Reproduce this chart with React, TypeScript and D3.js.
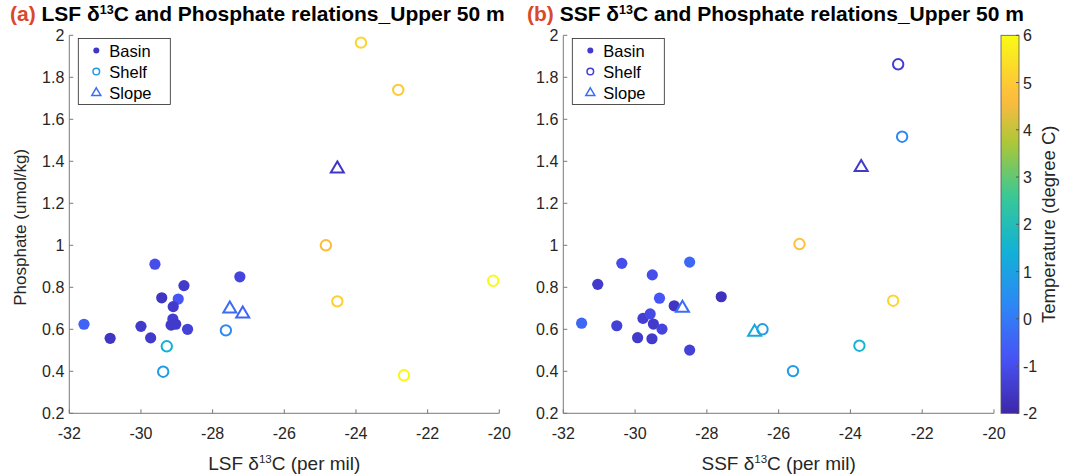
import React from "react";
import * as d3 from "d3";

// ---------- data ----------
const xTicks = [-32, -30, -28, -26, -24, -22, -20];
const yTicks = [0.2, 0.4, 0.6, 0.8, 1, 1.2, 1.4, 1.6, 1.8, 2];
const yTickLabels = ["0.2", "0.4", "0.6", "0.8", "1", "1.2", "1.4", "1.6", "1.8", "2"];
const cTicks = [-2, -1, 0, 1, 2, 3, 4, 5, 6];

// Panel (a) LSF
const aBasinX = [-30.86, -31.59, -29.61, -30.0, -29.73, -29.42, -28.96, -29.1, -28.8, -29.11, -29.16, -29.03, -28.7, -27.24];
const aBasinY = [0.557, 0.624, 0.91, 0.614, 0.559, 0.75, 0.744, 0.708, 0.808, 0.649, 0.62, 0.624, 0.6, 0.85];
const aBasinT = [-1.6, -0.5, -1.0, -1.5, -1.5, -1.6, -0.8, -1.5, -1.5, -1.4, -1.5, -1.5, -1.3, -1.2];
const aShelfX = [-29.38, -29.28, -27.63, -24.84, -24.52, -23.86, -22.82, -22.66, -20.17];
const aShelfY = [0.398, 0.519, 0.595, 1.0, 0.733, 1.965, 1.74, 0.381, 0.831];
const aShelfT = [0.8, 1.4, 0.4, 4.6, 5.1, 5.2, 5.0, 5.9, 6.0];
const aSlopeX = [-27.52, -27.16, -24.52];
const aSlopeY = [0.7, 0.676, 1.367];
const aSlopeT = [-0.3, -0.5, -1.6];

// Panel (b) SSF
const bBasinX = [-31.04, -31.49, -30.37, -29.52, -29.32, -28.91, -30.51, -29.93, -29.53, -29.78, -29.58, -29.49, -29.25, -28.48, -28.48, -27.6];
const bBasinY = [0.814, 0.629, 0.914, 0.859, 0.748, 0.712, 0.617, 0.56, 0.555, 0.652, 0.673, 0.625, 0.601, 0.92, 0.501, 0.755];
const bBasinT = [-1.5, -0.4, -1.0, -1.0, -0.8, -1.6, -1.3, -1.5, -1.5, -1.4, -1.1, -1.5, -1.2, -0.4, -1.3, -1.7];
const bShelfX = [-22.67, -22.56, -25.42, -22.81, -23.75, -25.6, -26.45];
const bShelfY = [1.862, 1.517, 1.006, 0.736, 0.522, 0.401, 0.6];
const bShelfT = [-1.4, 0.3, 4.8, 5.2, 1.5, 0.8, 0.9];
const bSlopeX = [-28.68, -26.67, -23.7];
const bSlopeY = [0.703, 0.589, 1.374];
const bSlopeT = [-0.3, 1.2, -1.5];

// parula anchors [t, r, g, b]
const parulaAnchors: [number, number, number, number][] = [
  [0.0, 0.2422, 0.1504, 0.6603],
  [0.1429, 0.281, 0.3228, 0.9579],
  [0.2857, 0.1786, 0.5289, 0.9682],
  [0.4286, 0.0689, 0.6948, 0.8394],
  [0.5714, 0.2161, 0.7843, 0.5923],
  [0.7143, 0.672, 0.7793, 0.2227],
  [0.82, 0.975, 0.735, 0.25],
  [0.8571, 0.997, 0.7659, 0.2199],
  [1.0, 0.9769, 0.9839, 0.0805],
];

function parula(t: number): string {
  t = Math.max(0, Math.min(1, t));
  let i = 0;
  while (i < parulaAnchors.length - 2 && t > parulaAnchors[i + 1][0]) i++;
  const a = parulaAnchors[i];
  const b = parulaAnchors[i + 1];
  const f = (t - a[0]) / (b[0] - a[0]);
  const c = [1, 2, 3].map((k) => Math.round(255 * (a[k] + (b[k] - a[k]) * f)));
  return d3.rgb(c[0], c[1], c[2]).formatHex();
}

const tempScale = d3.scaleLinear().domain([-2, 6]).range([0, 1]);
const colorOf = (t: number) => parula(tempScale(t));

const FONT = "'Liberation Sans', Arial, Helvetica, sans-serif";
const TXT = "#262626";
const AX = "#7a7a7a";
const TICK_FS = 16;
const XLABEL_FS = 19;
const YLABEL_FS = 17;
const CBLABEL_FS = 18.5;
const TITLE_FS = 21;
const LEG_FS = 16.5;

type Series = { x: number[]; y: number[]; t: number[] };

function Panel(props: {
  left: number;
  right: number;
  letter: string;
  xPrefix: string;
  titleX: number;
  basin: Series;
  shelf: Series;
  slope: Series;
  showYLabel: boolean;
}) {
  const { left, right } = props;
  const top = 35.3;
  const bottom = 413.3;
  const x = d3.scaleLinear().domain([-32, -20]).range([left, right]);
  const y = d3.scaleLinear().domain([0.2, 2]).range([bottom, top]);
  const tri = (cx: number, cy: number, s: number) => {
    const h = s * 0.85;
    return `M${cx},${cy - h * 0.62} L${cx + s / 2},${cy + h * 0.38} L${cx - s / 2},${cy + h * 0.38} Z`;
  };
  const cx = (left + right) / 2;
  const lgX = left + 9;
  const lgY = 38.5;
  return (
    <g>
      <text x={props.titleX} y={21} fontFamily={FONT} fontSize={TITLE_FS} fontWeight="bold" fill="#000">
        <tspan fill="#d9482b">{props.letter}</tspan>
        <tspan> {props.xPrefix} δ</tspan>
        <tspan fontSize={12.5} dy={-7.5}>13</tspan>
        <tspan dy={7.5}>C and Phosphate relations_Upper 50 m</tspan>
      </text>
      {/* axes */}
      <line x1={left} x2={right} y1={bottom} y2={bottom} stroke={AX} strokeWidth={1} />
      <line x1={left} x2={left} y1={top} y2={bottom} stroke={AX} strokeWidth={1} />
      {xTicks.map((t) => (
        <g key={"xt" + t}>
          <line x1={x(t)} x2={x(t)} y1={bottom} y2={bottom - 4} stroke={AX} />
          <text x={x(t)} y={439} textAnchor="middle" fontFamily={FONT} fontSize={TICK_FS} fill={TXT}>
            {t}
          </text>
        </g>
      ))}
      {yTicks.map((t, i) => (
        <g key={"yt" + t}>
          <line x1={left} x2={left + 4} y1={y(t)} y2={y(t)} stroke={AX} />
          <text x={left - 5} y={y(t) + 6} textAnchor="end" fontFamily={FONT} fontSize={TICK_FS} fill={TXT}>
            {yTickLabels[i]}
          </text>
        </g>
      ))}
      <text x={cx} y={470} textAnchor="middle" fontFamily={FONT} fontSize={XLABEL_FS} fill={TXT}>
        <tspan>{props.xPrefix} δ</tspan>
        <tspan fontSize={11.5} dy={-7.5}>13</tspan>
        <tspan dy={7.5}>C (per mil)</tspan>
      </text>
      {props.showYLabel && (
        <text
          transform={`translate(26,${(top + bottom) / 2 + 3}) rotate(-90)`}
          textAnchor="middle"
          fontFamily={FONT}
          fontSize={YLABEL_FS}
          fill={TXT}
        >
          Phosphate (umol/kg)
        </text>
      )}
      {/* data */}
      {props.basin.x.map((v, i) => (
        <circle key={"b" + i} cx={x(v)} cy={y(props.basin.y[i])} r={5.6} fill={colorOf(props.basin.t[i])} />
      ))}
      {props.shelf.x.map((v, i) => (
        <circle
          key={"s" + i}
          cx={x(v)}
          cy={y(props.shelf.y[i])}
          r={5.2}
          fill="none"
          stroke={colorOf(props.shelf.t[i])}
          strokeWidth={2}
        />
      ))}
      {props.slope.x.map((v, i) => (
        <path
          key={"t" + i}
          d={tri(x(v), y(props.slope.y[i]), 13)}
          fill="none"
          stroke={colorOf(props.slope.t[i])}
          strokeWidth={2}
          strokeLinejoin="miter"
        />
      ))}
      {/* legend */}
      <rect x={lgX} y={lgY} width={92} height={66} fill="#fff" stroke="#262626" strokeWidth={0.8} />
      <circle cx={lgX + 18} cy={lgY + 12} r={3} fill={colorOf(props.basin.t[0])} />
      <text x={lgX + 31} y={lgY + 18} fontFamily={FONT} fontSize={LEG_FS} fill="#000">Basin</text>
      <circle cx={lgX + 18} cy={lgY + 33} r={3.3} fill="none" stroke={colorOf(props.shelf.t[0])} strokeWidth={1.5} />
      <text x={lgX + 31} y={lgY + 39} fontFamily={FONT} fontSize={LEG_FS} fill="#000">Shelf</text>
      <path d={tri(lgX + 18, lgY + 54, 9)} fill="none" stroke={colorOf(props.slope.t[0])} strokeWidth={1.5} />
      <text x={lgX + 31} y={lgY + 60} fontFamily={FONT} fontSize={LEG_FS} fill="#000">Slope</text>
    </g>
  );
}

export default function App() {
  const cbLeft = 1001;
  const cbRight = 1019;
  const cbTop = 35.3;
  const cbBottom = 413.3;
  const cy = d3.scaleLinear().domain([-2, 6]).range([cbBottom, cbTop]);
  const stops = d3.range(0, 65).map((i) => i / 64);
  return (
    <svg width={1065} height={476} style={{ position: "absolute", left: 0, top: 0, background: "#fff" }}>
      <defs>
        <linearGradient id="parula" x1="0" y1="1" x2="0" y2="0">
          {stops.map((s) => (
            <stop key={s} offset={s} stopColor={parula(s)} />
          ))}
        </linearGradient>
      </defs>
      <rect x={0} y={0} width={1065} height={476} fill="#fff" />
      <Panel
        left={69.3}
        right={499.3}
        letter="(a)"
        xPrefix="LSF"
        titleX={10}
        basin={{ x: aBasinX, y: aBasinY, t: aBasinT }}
        shelf={{ x: aShelfX, y: aShelfY, t: aShelfT }}
        slope={{ x: aSlopeX, y: aSlopeY, t: aSlopeT }}
        showYLabel={true}
      />
      <Panel
        left={563.3}
        right={994}
        letter="(b)"
        xPrefix="SSF"
        titleX={527}
        basin={{ x: bBasinX, y: bBasinY, t: bBasinT }}
        shelf={{ x: bShelfX, y: bShelfY, t: bShelfT }}
        slope={{ x: bSlopeX, y: bSlopeY, t: bSlopeT }}
        showYLabel={false}
      />
      {/* colorbar */}
      <rect x={cbLeft} y={cbTop} width={cbRight - cbLeft} height={cbBottom - cbTop} fill="url(#parula)" stroke="#555" strokeWidth={0.8} />
      {cTicks.map((t) => (
        <g key={"c" + t}>
          <line x1={cbRight - 3} x2={cbRight} y1={cy(t)} y2={cy(t)} stroke="#555" />
          <text x={cbRight + 4} y={cy(t) + 6} fontFamily={FONT} fontSize={TICK_FS} fill={TXT}>
            {t}
          </text>
        </g>
      ))}
      <text
        transform={`translate(1055,${(cbTop + cbBottom) / 2}) rotate(-90)`}
        textAnchor="middle"
        fontFamily={FONT}
        fontSize={CBLABEL_FS}
        fill={TXT}
      >
        Temperature (degree C)
      </text>
    </svg>
  );
}
